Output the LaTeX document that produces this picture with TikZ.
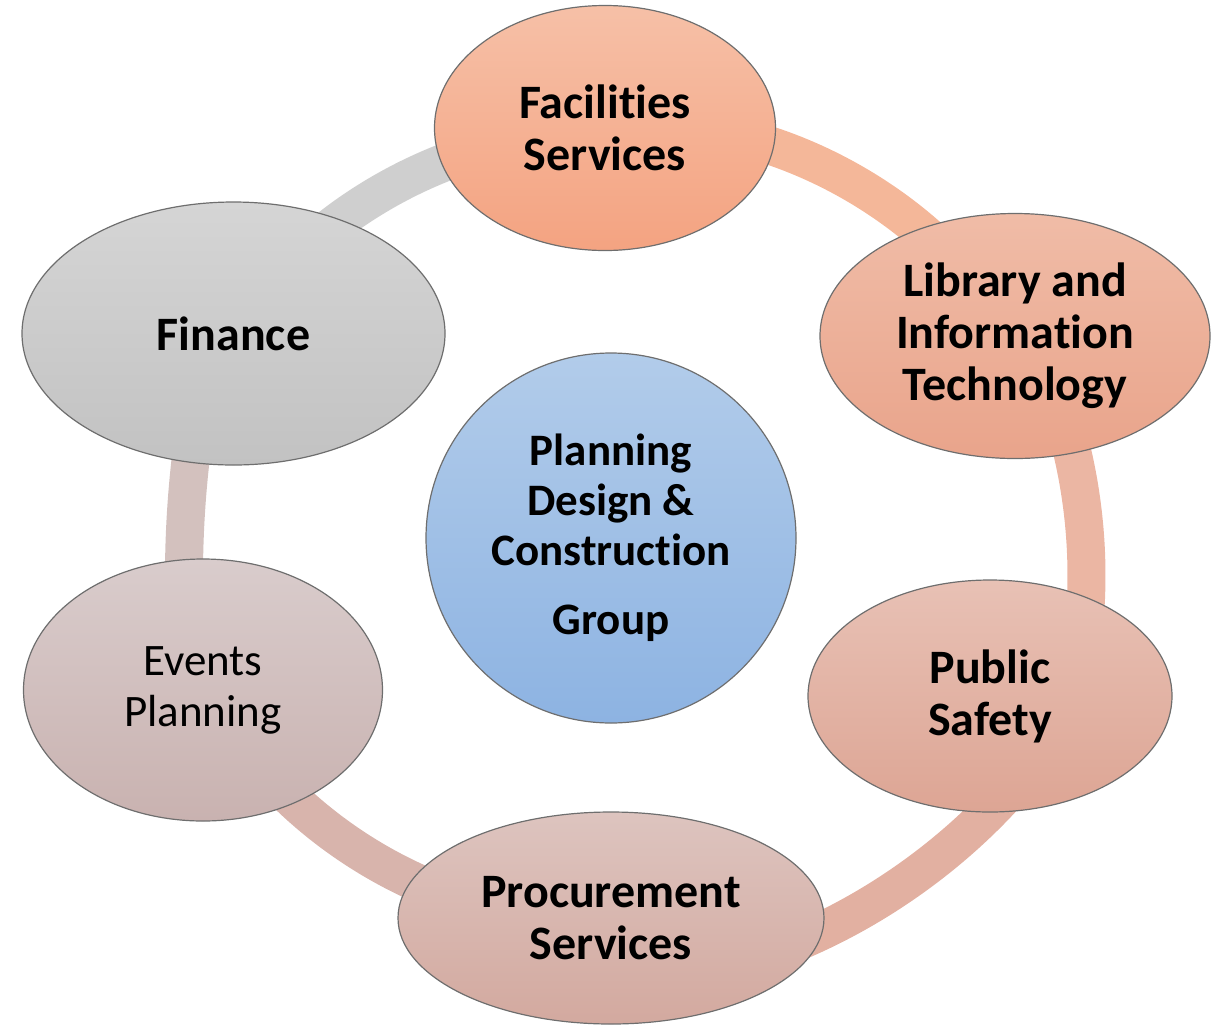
\documentclass[tikz,border=0pt]{standalone}
\usepackage{fontspec}
\setmainfont{Carlito}[Ligatures=NoCommon]
\usetikzlibrary{shapes.geometric}
\definecolor{edgegray}{HTML}{6E6E6E}
\definecolor{ringA}{HTML}{CFCFCF}
\definecolor{ringB}{HTML}{F4B799}
\definecolor{ringC}{HTML}{EBB6A3}
\definecolor{ringD}{HTML}{E2B0A1}
\definecolor{ringE}{HTML}{D8B4AC}
\definecolor{ringF}{HTML}{D3C1BE}
\definecolor{facT}{HTML}{F6C0A7}\definecolor{facB}{HTML}{F4A381}
\definecolor{libT}{HTML}{F0BCA7}\definecolor{libB}{HTML}{E9A48B}
\definecolor{pubT}{HTML}{E8C1B5}\definecolor{pubB}{HTML}{DDA594}
\definecolor{proT}{HTML}{DDC4BF}\definecolor{proB}{HTML}{D3A99F}
\definecolor{evtT}{HTML}{D9CCCC}\definecolor{evtB}{HTML}{C9B2B0}
\definecolor{finT}{HTML}{D5D5D5}\definecolor{finB}{HTML}{C2C2C2}
\definecolor{ctrT}{HTML}{B2CCEA}\definecolor{ctrB}{HTML}{8DB3E2}
\begin{document}
\begin{tikzpicture}[x=1pt,y=-1pt,
  bubble/.style={ellipse, draw=edgegray, line width=1.2pt, inner sep=0pt, outer sep=0pt,
    align=center, text=black, font=\fontsize{48}{52}\selectfont\bfseries},
  ringseg/.style={line width=38pt, line cap=butt, looseness=0.85}]
\useasboundingbox (0,0) rectangle (1215,1026);
% ring segments (ends hidden under the ellipses)
\coordinate (a1) at (322,234); \coordinate (a2) at (465,155);
\coordinate (b1) at (752,140); \coordinate (b2) at (935,243);
\coordinate (c1) at (1068,435); \coordinate (c2) at (1085,615);
\coordinate (d1) at (1008,792); \coordinate (d2) at (790,945);
\coordinate (e1) at (437,891); \coordinate (e2) at (278,785);
\coordinate (f1) at (184,585); \coordinate (f2) at (193,440);
\draw[ringseg, draw=ringA] (a1) to[bend left=10.4] (a2);
\draw[ringseg, draw=ringB] (b1) to[bend left=13.5] (b2);
\draw[ringseg, draw=ringC] (c1) to[bend left=9.7] (c2);
\draw[ringseg, draw=ringD] (d1) to[bend left=13] (d2);
\draw[ringseg, draw=ringE] (e1) to[bend left=12.3] (e2);
\draw[ringseg, draw=ringF] (f1) to[bend left=4] (f2);
% nodes
\node[bubble, minimum width=341pt, minimum height=245pt, top color=facT, bottom color=facB]
  (fac) at (605,128) {Facilities\\Services};
\node[bubble, minimum width=390pt, minimum height=245pt, top color=libT, bottom color=libB]
  (lib) at (1015,336) {Library and\\Information\\Technology};
\node[bubble, minimum width=364pt, minimum height=232pt, top color=pubT, bottom color=pubB]
  (pub) at (990,696) {Public\\Safety};
\node[bubble, minimum width=426pt, minimum height=212pt, top color=proT, bottom color=proB]
  (pro) at (611,918) {Procurement\\Services};
\node[bubble, minimum width=359pt, minimum height=262pt, top color=evtT, bottom color=evtB,
  font=\fontsize{45}{51}\selectfont\mdseries]
  (evt) at (203,690) {Events\\Planning};
\node[bubble, minimum width=423pt, minimum height=263pt, top color=finT, bottom color=finB]
  (fin) at (233.5,333.5) {Finance};
\node[bubble, minimum width=370pt, minimum height=370pt, top color=ctrT, bottom color=ctrB,
  font=\fontsize{45}{50}\selectfont\bfseries]
  (ctr) at (611,538) {Planning\\Design \&\\Construction\\[19pt]Group};
\end{tikzpicture}
\end{document}
